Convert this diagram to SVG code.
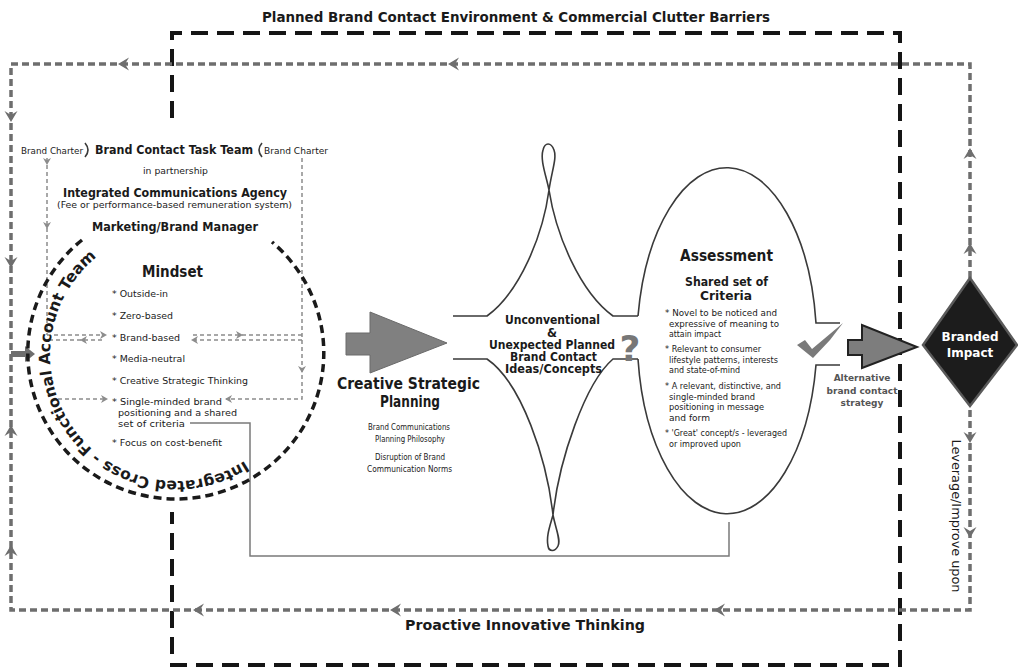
<svg xmlns="http://www.w3.org/2000/svg" width="1018" height="667" viewBox="0 0 1018 667">
<style>
text{font-family:"DejaVu Sans",Verdana,sans-serif;fill:#1a1a1a}
.b{font-weight:bold}
.s{font-size:9.5px}
.a{font-size:8.5px}
.m{text-anchor:middle}
.loop{fill:none;stroke:#6e6e6e;stroke-width:3.5;stroke-dasharray:7 4}
.frame{fill:none;stroke:#151515;stroke-width:4;stroke-dasharray:17 9}
.circ{fill:none;stroke:#1a1a1a;stroke-width:3.5;stroke-dasharray:8 5}
.thin{fill:none;stroke:#8c8c8c;stroke-width:1.5;stroke-dasharray:4 3}
.ah{fill:#6e6e6e}
.sah{fill:#8c8c8c}
.ln{fill:none;stroke:#3a3a3a;stroke-width:1.6}
.cn{fill:none;stroke:#7a7a7a;stroke-width:1.5}
.ct{font-weight:bold;font-size:15.5px}
</style>
<defs>
<path id="ah" d="M0,0 L-11,-6.5 L-7,0 L-11,6.5 Z"/>
<path id="sah" d="M0,0 L-7,-4 L-5,0 L-7,4 Z"/>
<path id="tp" d="M244.6,460.7 A126,126 0 1 1 301.9,361.6"/>
</defs>
<rect width="1018" height="667" fill="#fff"/>

<g id="connectors">
<path class="frame" d="M172,118 L172,33 L900,33 L900,665 L172,665 L172,512"/>
<path class="loop" d="M970,278 L970,64 L11,64 L11,610 L970,610 L970,406"/>
<g class="ah">
<use href="#ah" transform="translate(448,64) rotate(180)"/>
<use href="#ah" transform="translate(118,64) rotate(180)"/>
<use href="#ah" transform="translate(11,122) rotate(90)"/>
<use href="#ah" transform="translate(11,268) rotate(90)"/>
<use href="#ah" transform="translate(11,425) rotate(-90)"/>
<use href="#ah" transform="translate(11,545) rotate(-90)"/>
<use href="#ah" transform="translate(193,610) rotate(180)"/>
<use href="#ah" transform="translate(390,610) rotate(180)"/>
<use href="#ah" transform="translate(714,610) rotate(180)"/>
<use href="#ah" transform="translate(970,148) rotate(-90)"/>
<use href="#ah" transform="translate(970,243) rotate(-90)"/>
<use href="#ah" transform="translate(970,443) rotate(90)"/>
<use href="#ah" transform="translate(970,538) rotate(90)"/>
</g>
<polygon class="ah" points="11,351 25,351 25,346 35,354 25,362 25,357 11,357"/>
<path class="thin" d="M47,158 L47,335 M47,335 L105,335 M49,340 L105,340 M302,158 L302,399 L226,399 M302,335 L192,335 M302,340 L192,340 M58,399 L106,399"/>
<g class="sah">
<use href="#sah" transform="translate(47,165) rotate(90)"/>
<use href="#sah" transform="translate(47,229) rotate(90)"/>
<use href="#sah" transform="translate(107,335)"/>
<use href="#sah" transform="translate(80,340) rotate(180)"/>
<use href="#sah" transform="translate(191,340) rotate(180)"/>
<use href="#sah" transform="translate(243,335)"/>
<use href="#sah" transform="translate(302,373) rotate(90)"/>
<use href="#sah" transform="translate(108,399)"/>
<use href="#sah" transform="translate(225,399) rotate(180)"/>
</g>
<path class="cn" d="M729,522 L729,556 L250,556 L250,423 L190,423"/>
</g>

<text class="b m" x="516" y="22" font-size="13.5" textLength="508" lengthAdjust="spacingAndGlyphs">Planned Brand Contact Environment &amp; Commercial Clutter Barriers</text>
<text class="b" x="405" y="630" font-size="14" textLength="240" lengthAdjust="spacingAndGlyphs">Proactive Innovative Thinking</text>

<g id="task-team">
<text class="s" x="21" y="153.5" textLength="62" lengthAdjust="spacingAndGlyphs">Brand Charter</text>
<path class="ln" d="M85,143 Q91,150 85,157"/>
<text class="b" x="95" y="154" font-size="11.5" textLength="158" lengthAdjust="spacingAndGlyphs">Brand Contact Task Team</text>
<path class="ln" d="M262,143 Q256,150 262,157"/>
<text class="s" x="264" y="153.5" textLength="64" lengthAdjust="spacingAndGlyphs">Brand Charter</text>
<text x="143" y="174" font-size="9" textLength="65" lengthAdjust="spacingAndGlyphs">in partnership</text>
<text class="b" x="63" y="197" font-size="12.5" textLength="224" lengthAdjust="spacingAndGlyphs">Integrated Communications Agency</text>
<text class="s" x="57" y="207.5" textLength="235" lengthAdjust="spacingAndGlyphs">(Fee or performance-based remuneration system)</text>
<text class="b" x="92" y="231" font-size="12" textLength="166" lengthAdjust="spacingAndGlyphs">Marketing/Brand Manager</text>
</g>

<g id="mindset">
<path class="circ" d="M82,240 A148,146 0 1 0 272,242"/>
<text class="ct"><textPath href="#tp">Integrated Cross -</textPath></text>
<text class="ct"><textPath href="#tp" startOffset="164">Functional Account Team</textPath></text>
<text class="b" x="142" y="277" font-size="15" textLength="61" lengthAdjust="spacingAndGlyphs">Mindset</text>
<g class="s">
<text x="112" y="296.5" textLength="56" lengthAdjust="spacingAndGlyphs">* Outside-in</text>
<text x="112" y="318.5" textLength="61" lengthAdjust="spacingAndGlyphs">* Zero-based</text>
<text x="112" y="340.5" textLength="68" lengthAdjust="spacingAndGlyphs">* Brand-based</text>
<text x="112" y="361.5" textLength="73" lengthAdjust="spacingAndGlyphs">* Media-neutral</text>
<text x="112" y="383.5" textLength="136" lengthAdjust="spacingAndGlyphs">* Creative Strategic Thinking</text>
<text x="112" y="404.5" textLength="110" lengthAdjust="spacingAndGlyphs">* Single-minded brand</text>
<text x="118" y="415.5" textLength="119" lengthAdjust="spacingAndGlyphs">positioning and a shared</text>
<text x="118" y="426.5" textLength="67" lengthAdjust="spacingAndGlyphs">set of criteria</text>
<text x="112" y="446" textLength="110" lengthAdjust="spacingAndGlyphs">* Focus on cost-benefit</text>
</g>
</g>

<g id="creative-strategic-planning">
<polygon points="346,333 370,333 370,312 447,343 370,373 370,355 346,355" fill="#808080" stroke="#6a6a6a" stroke-width="1"/>
<text class="b" x="337" y="389" font-size="16" textLength="143" lengthAdjust="spacingAndGlyphs">Creative Strategic</text>
<text class="b" x="380" y="407" font-size="16" textLength="60" lengthAdjust="spacingAndGlyphs">Planning</text>
<g class="s">
<text x="368" y="430" textLength="82" lengthAdjust="spacingAndGlyphs">Brand Communications</text>
<text x="375" y="442" textLength="70" lengthAdjust="spacingAndGlyphs">Planning Philosophy</text>
<text x="375" y="460" textLength="70" lengthAdjust="spacingAndGlyphs">Disruption of Brand</text>
<text x="367" y="472" textLength="85" lengthAdjust="spacingAndGlyphs">Communication Norms</text>
</g>
</g>

<g id="ideas">
<path class="ln" d="M453,316 L487,316 C520,292 543,235 549,190 C552,170 557,158 554,150 C551,142 545,142 543,150 C540,160 546,175 549,190 C556,235 580,292 613,316 L638,316"/>
<path class="ln" d="M453,359 L487,359 C522,383 547,460 553,515 C556,530 561,540 558,546 C555,552 549,552 548,546 C546,536 550,526 553,515 C559,460 585,383 613,359 L638,359"/>
<g class="b" font-size="11.5">
<text x="505" y="324" textLength="95" lengthAdjust="spacingAndGlyphs">Unconventional</text>
<text class="m" x="552" y="337">&amp;</text>
<text x="489" y="349" textLength="126" lengthAdjust="spacingAndGlyphs">Unexpected Planned</text>
<text x="510" y="361" textLength="87" lengthAdjust="spacingAndGlyphs">Brand Contact</text>
<text x="505" y="373" textLength="97" lengthAdjust="spacingAndGlyphs">Ideas/Concepts</text>
</g>
<text class="b m" x="630" y="361" font-size="36" style="fill:#777">?</text>
</g>

<g id="assessment">
<path class="ln" d="M638,316 A90,178 0 0 1 816,323 L840,323 M840,365 L816,365 A90,178 0 0 1 638,359"/>
<text class="b" x="680" y="261" font-size="15.5" textLength="93" lengthAdjust="spacingAndGlyphs">Assessment</text>
<text class="b" x="685" y="286" font-size="13" textLength="83" lengthAdjust="spacingAndGlyphs">Shared set of</text>
<text class="b" x="700" y="300" font-size="13" textLength="52" lengthAdjust="spacingAndGlyphs">Criteria</text>
<g class="a">
<text x="665" y="316" textLength="112" lengthAdjust="spacingAndGlyphs">* Novel to be noticed and</text>
<text x="669" y="326.5" textLength="110" lengthAdjust="spacingAndGlyphs">expressive of meaning to</text>
<text x="669" y="337" textLength="52" lengthAdjust="spacingAndGlyphs">attain impact</text>
<text x="665" y="352" textLength="96" lengthAdjust="spacingAndGlyphs">* Relevant to consumer</text>
<text x="669" y="362.5" textLength="109" lengthAdjust="spacingAndGlyphs">lifestyle patterns, interests</text>
<text x="669" y="373" textLength="71" lengthAdjust="spacingAndGlyphs">and state-of-mind</text>
<text x="665" y="389" textLength="116" lengthAdjust="spacingAndGlyphs">* A  relevant, distinctive, and</text>
<text x="669" y="399.5" textLength="86" lengthAdjust="spacingAndGlyphs">single-minded brand</text>
<text x="669" y="410" textLength="95" lengthAdjust="spacingAndGlyphs">positioning in message</text>
<text x="669" y="420.5" textLength="41" lengthAdjust="spacingAndGlyphs">and form</text>
<text x="665" y="436" textLength="122" lengthAdjust="spacingAndGlyphs">* 'Great' concept/s - leveraged</text>
<text x="669" y="446.5" textLength="72" lengthAdjust="spacingAndGlyphs">or improved upon</text>
</g>
</g>

<g id="alternative-strategy">
<path d="M797,345 L805,340 L812,349 L843,323 L830,340 L813,358 Z" fill="#7a7a7a"/>
<polygon points="848,340 862,340 862,325 917,347 862,368 862,355 848,355" fill="#7d7d7d" stroke="#222" stroke-width="2"/>
<g class="b m" font-size="9">
<text x="862" y="381" style="fill:#555">Alternative</text>
<text x="862" y="394" style="fill:#555">brand contact</text>
<text x="862" y="406" style="fill:#555">strategy</text>
</g>
</g>

<g id="branded-impact">
<polygon points="923,345 970,278 1017,345 970,406" fill="#1c1c1c" stroke="#5a5a5a" stroke-width="2.5"/>
<text class="b m" x="970" y="341" font-size="12" style="fill:#fff">Branded</text>
<text class="b m" x="970" y="357" font-size="12" style="fill:#fff">Impact</text>
</g>

<g id="leverage">
<text class="m" transform="translate(952,516) rotate(90)" font-size="12.5" textLength="153" lengthAdjust="spacingAndGlyphs">Leverage/Improve upon</text>
</g>
</svg>
